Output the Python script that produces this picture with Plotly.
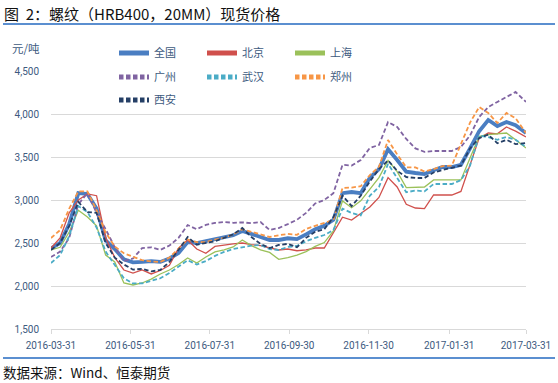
import plotly.graph_objects as go

dates = [
    "2016-03-31", "2016-04-07", "2016-04-14", "2016-04-21", "2016-04-28",
    "2016-05-05", "2016-05-12", "2016-05-19", "2016-05-26", "2016-06-02",
    "2016-06-09", "2016-06-16", "2016-06-23", "2016-06-30", "2016-07-07",
    "2016-07-14", "2016-07-21", "2016-07-28", "2016-08-04", "2016-08-11",
    "2016-08-18", "2016-08-25", "2016-09-01", "2016-09-08", "2016-09-15",
    "2016-09-22", "2016-09-29", "2016-10-06", "2016-10-13", "2016-10-20",
    "2016-10-27", "2016-11-03", "2016-11-10", "2016-11-17", "2016-11-24",
    "2016-12-01", "2016-12-08", "2016-12-15", "2016-12-22", "2016-12-29",
    "2017-01-05", "2017-01-12", "2017-01-19", "2017-01-26", "2017-02-02",
    "2017-02-09", "2017-02-16", "2017-02-23", "2017-03-02", "2017-03-09",
    "2017-03-16", "2017-03-23", "2017-03-31",
]

quanguo = [2438, 2500, 2720, 3080, 3070, 2900, 2530, 2430, 2310, 2275,
           2280, 2290, 2280, 2320, 2384, 2510, 2500, 2520, 2550, 2570,
           2590, 2640, 2610, 2570, 2535, 2535, 2555, 2545, 2600, 2660,
           2700, 2770, 3080, 3093, 3080, 3260, 3360, 3590, 3465, 3330,
           3314, 3302, 3345, 3384, 3384, 3410, 3600, 3800, 3930, 3860,
           3907, 3870, 3779]
beijing = [2442, 2560, 2850, 3000, 3070, 3050, 2560, 2330, 2186, 2150,
           2186, 2140, 2180, 2240, 2440, 2535, 2430, 2380, 2460, 2477,
           2490, 2500, 2480, 2470, 2442, 2419, 2430, 2410, 2420, 2442,
           2442, 2620, 2800, 2767, 2840, 2919, 3030, 3260, 3151, 2950,
           2907, 2900, 3058, 3058, 3058, 3100, 3400, 3720, 3779, 3770,
           3849, 3800, 3733]
shanghai = [2419, 2450, 2628, 2880, 2802, 2700, 2360, 2280, 2035, 2012,
            2035, 2080, 2140, 2186, 2250, 2326, 2267, 2337, 2396, 2420,
            2454, 2535, 2470, 2420, 2390, 2310, 2330, 2360, 2400, 2460,
            2505, 2640, 2990, 2910, 2990, 3130, 3260, 3460, 3330, 3145,
            3145, 3151, 3233, 3233, 3233, 3233, 3488, 3740, 3760, 3770,
            3779, 3700, 3605]
guangzhou = [2337, 2400, 2560, 2950, 3080, 2850, 2660, 2450, 2290, 2320,
             2440, 2450, 2420, 2470, 2560, 2709, 2660, 2710, 2733, 2744,
             2735, 2740, 2730, 2744, 2651, 2674, 2720, 2770, 2850, 2960,
             3000, 3080, 3410, 3400, 3465, 3605, 3640, 3907, 3850, 3710,
             3600, 3560, 3570, 3570, 3570, 3616, 3750, 3965, 4081, 4140,
             4200, 4256, 4140]
wuhan = [2267, 2360, 2580, 2930, 2860, 2680, 2400, 2250, 2090, 2030,
         2030, 2060, 2090, 2150, 2230, 2300, 2250, 2290, 2350, 2396,
         2430, 2454, 2470, 2477, 2430, 2419, 2454, 2465, 2520, 2560,
         2593, 2650, 2900, 2849, 2820, 3050, 3151, 3420, 3260, 3090,
         3110, 3100, 3186, 3186, 3186, 3230, 3400, 3750, 3730, 3700,
         3733, 3700, 3616]
zhengzhou = [2558, 2650, 2900, 3100, 3100, 2880, 2620, 2460, 2380, 2340,
             2300, 2285, 2280, 2330, 2440, 2540, 2510, 2510, 2540, 2560,
             2600, 2660, 2630, 2600, 2570, 2590, 2605, 2595, 2663, 2700,
             2733, 2767, 3140, 3145, 3160, 3290, 3384, 3698, 3530, 3380,
             3380, 3330, 3360, 3395, 3400, 3650, 3900, 4081, 4012, 3895,
             4012, 3950, 3779]
xian = [2419, 2500, 2700, 2977, 2860, 2850, 2500, 2330, 2250, 2190,
        2200, 2170, 2186, 2280, 2420, 2570, 2480, 2500, 2520, 2560,
        2600, 2674, 2570, 2490, 2442, 2477, 2490, 2450, 2560, 2630,
        2660, 2800, 3050, 2930, 3050, 3215, 3360, 3460, 3340, 3267,
        3256, 3256, 3320, 3350, 3372, 3400, 3600, 3720, 3760, 3660,
        3700, 3650, 3663]

tick_vals = ["2016-03-31", "2016-05-31", "2016-07-31", "2016-09-30",
             "2016-11-30", "2017-01-31", "2017-03-31"]
tick_text = tick_vals

series = [
    ("全国", quanguo, "#4A7EC2", 3.8, "solid", "legend"),
    ("北京", beijing, "#D0504C", 1.3, "solid", "legend"),
    ("上海", shanghai, "#9BC15A", 1.3, "solid", "legend"),
    ("广州", guangzhou, "#8064A2", 1.8, "4.5px,2.5px", "legend2"),
    ("武汉", wuhan, "#4BACC6", 1.8, "4.5px,2.5px", "legend2"),
    ("郑州", zhengzhou, "#F79646", 1.8, "4.5px,2.5px", "legend2"),
    ("西安", xian, "#253F66", 1.8, "4.5px,2.5px", "legend3"),
]

fig = go.Figure()
for name, vals, color, width, dash, lg in series:
    fig.add_trace(go.Scatter(
        x=dates, y=vals, name=name, mode="lines",
        line=dict(color=color, width=width, dash=dash),
        legend=lg,
    ))

W, H = 558, 383
L, R, T, B = 51, 526, 71, 329

def px(xp):
    return (xp - L) / (R - L)

def py(yp):
    return (B - yp) / (B - T)

txt_col = "#3D5A80"
font_main = "Roboto, Noto Sans CJK SC, sans-serif"
cjk = "Noto Sans CJK SC, sans-serif"

legend_common = dict(
    orientation="h", xref="container", yref="container",
    xanchor="left", yanchor="middle",
    font=dict(family=cjk, size=11, color=txt_col),
    bgcolor="rgba(0,0,0,0)", borderwidth=0,
    entrywidth=43, entrywidthmode="pixels",
    itemsizing="constant", tracegroupgap=0,
)

fig.update_layout(
    width=W, height=H,
    margin=dict(l=L, r=W - R, t=T, b=H - B, pad=0, autoexpand=False),
    paper_bgcolor="white", plot_bgcolor="white",
    showlegend=True,
    legend=dict(x=114 / W, y=1 - 53 / H, **legend_common),
    legend2=dict(x=114 / W, y=1 - 77 / H, **legend_common),
    legend3=dict(x=114 / W, y=1 - 100 / H, **legend_common),
    xaxis=dict(
        type="date", range=["2016-03-31", "2017-03-31"],
        tickvals=tick_vals, ticktext=tick_text,
        showgrid=False, showline=True, linecolor="#D9D9D9", linewidth=1,
        ticks="outside", ticklen=4, tickcolor="#D9D9D9", tickwidth=1,
        tickfont=dict(family=font_main, size=10, color=txt_col),
        ticklabelstandoff=3, zeroline=False, automargin=False,
    ),
    yaxis=dict(
        range=[1500, 4500], dtick=500, tickformat=",",
        showgrid=True, gridcolor="#D9D9D9", gridwidth=1,
        zeroline=False, showline=False, ticks="",
        tickfont=dict(family=font_main, size=10, color=txt_col),
        ticklabelstandoff=11, automargin=False,
    ),
)

fig.add_annotation(
    text="图\u00a0 2：螺纹（HRB400，20MM）现货价格", xref="paper", yref="paper",
    x=px(2), y=py(13), xanchor="left", yanchor="middle", showarrow=False,
    font=dict(family=cjk, size=15, color="#111111"),
)
fig.add_annotation(
    text="元/吨", xref="paper", yref="paper",
    x=px(26), y=py(48), xanchor="center", yanchor="middle", showarrow=False,
    font=dict(family=cjk, size=11.5, color=txt_col),
)
fig.add_annotation(
    text="数据来源：Wind、恒泰期货", xref="paper", yref="paper",
    x=px(1), y=py(372), xanchor="left", yanchor="middle", showarrow=False,
    font=dict(family=cjk, size=13.5, color="#111111"),
)
fig.add_shape(type="line", xref="paper", yref="paper",
              x0=px(3), x1=px(555), y0=py(24), y1=py(24),
              line=dict(color="#5B8FD0", width=2))
fig.add_shape(type="line", xref="paper", yref="paper",
              x0=px(3), x1=px(555), y0=py(358), y1=py(358),
              line=dict(color="#5B8FD0", width=2))

fig.write_html("out.html",
               config={"displayModeBar": False},
               post_script="document.body.style.margin='0px';"
                           "document.body.style.overflow='hidden';")
